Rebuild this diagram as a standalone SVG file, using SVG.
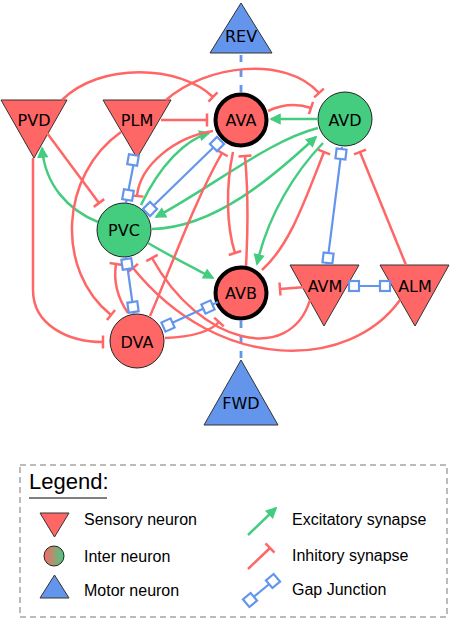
<svg xmlns="http://www.w3.org/2000/svg" xmlns:xlink="http://www.w3.org/1999/xlink" width="452" height="620" viewBox="0 0 452 620">
<defs>
<style>
.ex{fill:none;stroke:#44cc7f;stroke-width:2.5;marker-end:url(#arr)}
.in{fill:none;stroke:#ff6666;stroke-width:2.5;marker-end:url(#tbar)}
.gj{fill:none;stroke:#6495ed;stroke-width:2.2}
.gjsq{fill:#fff;stroke:#6495ed;stroke-width:2.2}
.dash{fill:none;stroke:#6495ed;stroke-width:2.8;stroke-dasharray:7 8}
.sens{fill:#ff6666;stroke:#333;stroke-width:1}
.mot{fill:#6495ed;stroke:#333;stroke-width:1}
.intr{fill:#ff6666;stroke:#222;stroke-width:1}
.intg{fill:#44cc7f;stroke:#222;stroke-width:1}
.cmd{fill:#ff6666;stroke:#000;stroke-width:4}
.lbl{font-family:"DejaVu Sans",sans-serif;font-size:16px;text-anchor:middle;fill:#000}
.leg{font-family:"Liberation Sans",Arial,sans-serif;font-size:16px;fill:#000}
</style>
<marker id="arr" markerUnits="userSpaceOnUse" markerWidth="12" markerHeight="12" viewBox="0 -6 12 12" refX="10" refY="0" orient="auto">
<path d="M1,-4.5 L10,0 L1,4.5 Z" fill="#44cc7f" stroke="#44cc7f" stroke-width="1.5" stroke-linejoin="miter"/>
</marker>
<marker id="tbar" markerUnits="userSpaceOnUse" markerWidth="6" markerHeight="16" viewBox="-3 -8 6 16" refX="0" refY="0" orient="auto">
<path d="M0,-6.5 V6.5" stroke="#ff6666" stroke-width="2.5"/>
</marker>
<rect id="gsq" x="-5" y="-5" width="10" height="10" class="gjsq"/>
<linearGradient id="grad" x1="0" y1="0" x2="1" y2="0">
<stop offset="0" stop-color="#ff6666"/>
<stop offset="1" stop-color="#44cc7f"/>
</linearGradient>
</defs>
<rect width="452" height="620" fill="#fff"/>

<g id="node-REV"><polygon class="mot" points="241,3 210,53 272,53"/><text class="lbl" x="241" y="42">REV</text></g>
<g id="node-PVD"><polygon class="sens" points="1,100 67,100 34,158"/><text class="lbl" x="34" y="126">PVD</text></g>
<g id="node-PLM"><polygon class="sens" points="103,100 171,100 137,158"/><text class="lbl" x="137" y="126">PLM</text></g>
<g id="node-AVA"><circle class="cmd" cx="241" cy="120" r="25.5"/><text class="lbl" x="241" y="126">AVA</text></g>
<g id="node-AVD"><circle class="intg" cx="345" cy="119" r="27"/><text class="lbl" x="345" y="126">AVD</text></g>
<g id="node-PVC"><circle class="intg" cx="124" cy="230" r="27"/><text class="lbl" x="124" y="236">PVC</text></g>
<g id="node-AVB"><circle class="cmd" cx="241" cy="293" r="25.5"/><text class="lbl" x="241" y="299">AVB</text></g>
<g id="node-AVM"><polygon class="sens" points="290,265 359,265 324,326"/><text class="lbl" x="325" y="292">AVM</text></g>
<g id="node-ALM"><polygon class="sens" points="380,265 449,265 415,326"/><text class="lbl" x="415" y="292">ALM</text></g>
<g id="node-DVA"><circle class="intr" cx="137" cy="341" r="27"/><text class="lbl" x="137" y="348">DVA</text></g>
<g id="node-FWD"><polygon class="mot" points="241,360 204,425 278,425"/><text class="lbl" x="241" y="409">FWD</text></g>

<g id="connectors">
<path class="dash" d="M241,55 V92"/>
<path class="dash" d="M241,321 V360"/>
<path class="ex" d="M318,119 L271,119"/>
<path class="ex" d="M141,205 C160,165 185,140 209,133"/>
<path class="ex" d="M318,128 C270,140 215,185 156,217"/>
<path class="ex" d="M152,229 C215,228 275,175 316,137"/>
<path class="ex" d="M323,143 C295,172 268,215 257,264"/>
<path class="ex" d="M148,243 C170,256 190,266 213,278"/>
<path class="ex" d="M98,222 C68,210 45,185 42,148"/>
<path class="in" d="M161,120 L207,120"/>
<path class="in" d="M62,100 C100,62 180,65 213,97"/>
<path class="in" d="M166,100 C205,65 285,55 319,93"/>
<path class="in" d="M268,111 Q290,101 311,108"/>
<path class="in" d="M47,133 L99,203"/>
<path class="in" d="M33,158 L33,290 C33,325 68,342 103,342"/>
<path class="in" d="M121,132 C60,175 55,270 111,315"/>
<path class="in" d="M213,131 C175,137 140,165 137,196"/>
<path class="in" d="M233,152 C226,185 226,225 235,253"/>
<path class="in" d="M246,266 C248,230 248,190 245,156"/>
<path class="in" d="M150,316 C170,270 195,200 222,153"/>
<path class="in" d="M128,313 Q112,290 116,264"/>
<path class="in" d="M310,300 C290,365 200,345 152,258"/>
<path class="in" d="M400,300 C350,370 220,375 133,268"/>
<path class="in" d="M165,338 C190,337 210,332 219,322"/>
<path class="in" d="M306,287 L280,289"/>
<path class="in" d="M406,265 L360,152"/>
<path class="in" d="M262,270 C290,245 305,200 324,152"/>
<path class="gj" d="M135,157 L126,203"/>
<use xlink:href="#gsq" transform="translate(133,160) rotate(10)"/>
<use xlink:href="#gsq" transform="translate(128,195) rotate(10)"/>
<path class="gj" d="M219,142 L148,211"/>
<use xlink:href="#gsq" transform="translate(217,144) rotate(45)"/>
<use xlink:href="#gsq" transform="translate(150,209) rotate(45)"/>
<path class="gj" d="M342,147 L327,265"/>
<use xlink:href="#gsq" transform="translate(341,154) rotate(7)"/>
<use xlink:href="#gsq" transform="translate(328,258) rotate(7)"/>
<path class="gj" d="M350,286 L390,286"/>
<use xlink:href="#gsq" transform="translate(354,286)"/>
<use xlink:href="#gsq" transform="translate(385,286)"/>
<path class="gj" d="M126,257 L134,314"/>
<use xlink:href="#gsq" transform="translate(127,264) rotate(-8)"/>
<use xlink:href="#gsq" transform="translate(133,307) rotate(-8)"/>
<path class="gj" d="M163,327 L218,302"/>
<use xlink:href="#gsq" transform="translate(168,325) rotate(-24)"/>
<use xlink:href="#gsq" transform="translate(208,307) rotate(-24)"/>
</g>

<g id="legend">
<rect x="20" y="465" width="427" height="152" fill="none" stroke="#bbb" stroke-width="2" stroke-dasharray="6 4"/>
<text x="29" y="489" font-family="Liberation Sans, Arial, sans-serif" font-size="22">Legend:</text>
<line x1="29" y1="498" x2="107" y2="498" stroke="#000" stroke-width="1"/>
<polygon class="sens" points="40,513 69,513 54.5,537"/>
<text class="leg" x="84" y="525">Sensory neuron</text>
<circle cx="54" cy="556" r="10" fill="url(#grad)" stroke="#222" stroke-width="1"/>
<text class="leg" x="84" y="562">Inter neuron</text>
<polygon class="mot" points="54.5,575 40,598 69,598"/>
<text class="leg" x="84" y="596">Motor neuron</text>
<path class="ex" d="M248,535 L276,508"/>
<text class="leg" x="292" y="525">Excitatory synapse</text>
<path class="in" d="M248,569 L270,548"/>
<text class="leg" x="292" y="561">Inhitory synapse</text>
<path class="gj" d="M250,600 L273,581"/>
<use xlink:href="#gsq" transform="translate(250,600) rotate(-40)"/>
<use xlink:href="#gsq" transform="translate(273,581) rotate(-40)"/>
<text class="leg" x="292" y="595">Gap Junction</text>
</g>
</svg>
